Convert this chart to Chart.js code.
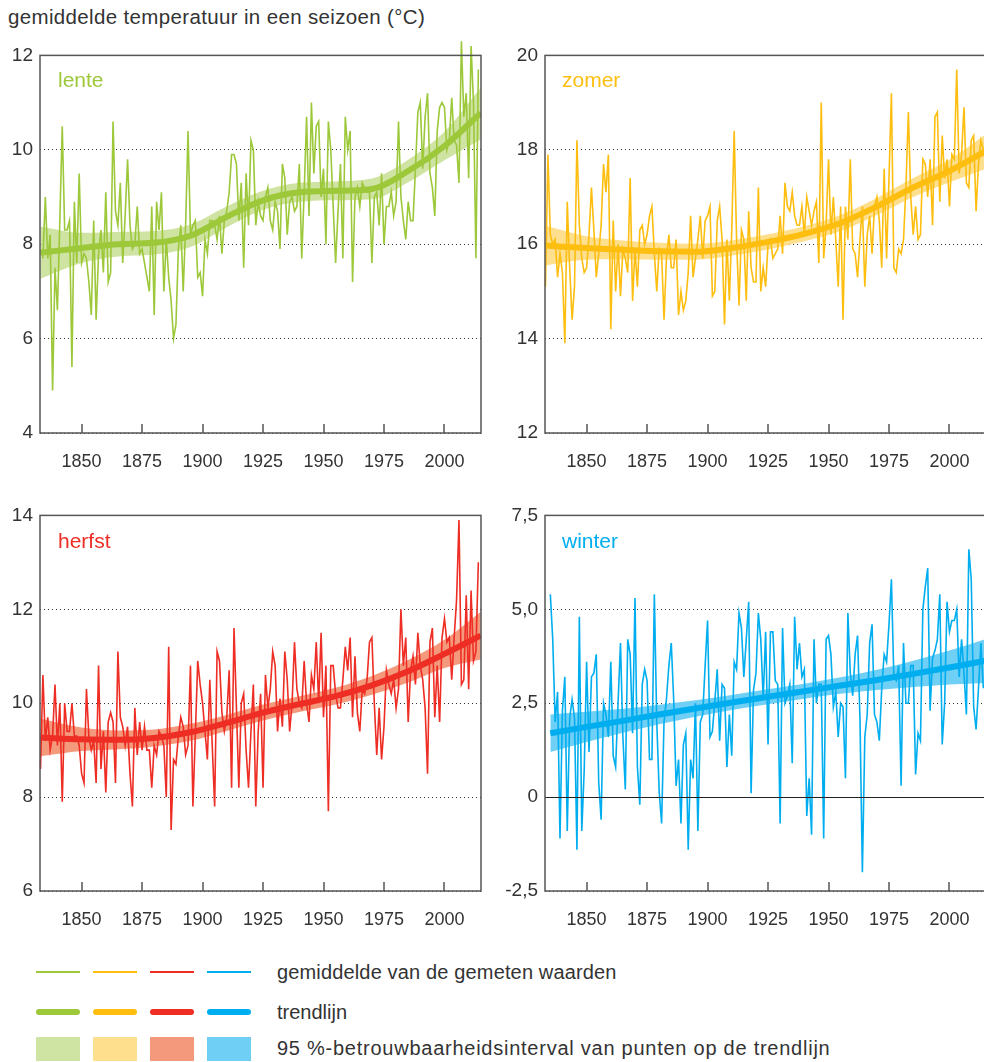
<!DOCTYPE html>
<html>
<head>
<meta charset="utf-8">
<script src="https://cdn.jsdelivr.net/npm/chart.js@4.4.0/dist/chart.umd.min.js"></script>
<style>
html, body { margin: 0; padding: 0; background: #fff; overflow: hidden; }
body { width: 984px; height: 1062px; position: relative; font-family: "Liberation Sans", Arial, sans-serif; color: #333; }
canvas { position: absolute; }
.title { position: absolute; left: 8px; top: 7px; font-size: 20.5px; letter-spacing: 0.35px; line-height: 1; }
.plabel { position: absolute; font-size: 21px; line-height: 1; }
.legtext { position: absolute; left: 277px; font-size: 20px; line-height: 1; }
.legmark { position: absolute; width: 44px; }
</style>
</head>
<body>
<div class="title">gemiddelde temperatuur in een seizoen (°C)</div>
<canvas id="c0" width="490" height="436" style="left:0;top:37px"></canvas>
<canvas id="c1" width="490" height="436" style="left:505px;top:37px"></canvas>
<canvas id="c2" width="490" height="434" style="left:0;top:497px"></canvas>
<canvas id="c3" width="490" height="434" style="left:505px;top:497px"></canvas>
<div id="labels"></div>
<div id="legend"></div>
<script>
// ---- data ----
const yearTicks = [1850, 1875, 1900, 1925, 1950, 1975, 2000];
const xMin = 1832.8, xMax = 2015.1;

const lenteStart = 1834;
const lenteValues = [
  7.7, 9.0, 7.7, 8.2, 4.9, 7.5, 6.6, 8.5, 10.5, 8.3,
  8.3, 8.5, 5.4, 8.9, 7.6, 9.5, 7.6, 7.8, 7.7, 7.2,
  6.5, 8.5, 6.4, 7.8, 8.3, 7.4, 9.1, 7.2, 7.4, 10.6,
  8.7, 8.4, 9.3, 7.6, 8.6, 9.8, 8.4, 7.9, 8.0, 8.8,
  7.8, 7.9, 7.6, 7.3, 7.0, 8.8, 6.5, 8.9, 8.3, 9.1,
  7.0, 8.1, 7.3, 6.8, 6.0, 6.3, 7.9, 8.4, 7.0, 8.4,
  10.4,
  8.2, 8.4, 8.5, 7.3, 7.4, 6.9, 8.1, 7.8, 8.5, 8.5,
  8.4, 8.1, 8.6, 7.8, 8.5, 8.7, 9.1, 9.9, 9.9, 9.7,
  8.5, 9.3, 7.5, 9.5, 8.4, 10.2, 10.0, 8.4, 8.9, 8.6,
  8.5, 9.0, 9.2, 8.5, 8.3, 8.9, 8.7, 7.9, 9.7, 9.4,
  8.2, 8.9, 9.0, 8.7, 8.8, 9.7, 7.7, 9.1, 10.7, 8.6,
  11.0, 9.5, 10.5, 10.6, 9.0, 9.6, 8.0, 10.6, 10.0, 8.8,
  7.6, 8.7,
  9.7, 7.7, 10.7, 10.0, 10.4, 7.2, 9.0, 9.2, 8.8, 9.3,
  9.2, 9.1, 9.1, 7.6, 9.0, 9.1, 8.4, 9.5, 8.0, 8.8,
  8.8, 9.1, 8.6, 8.9, 10.6, 9.0, 8.5, 8.1, 8.9, 8.5,
  8.5, 9.6, 10.8, 11.0, 9.6, 10.7, 11.2, 9.5, 9.2, 8.6,
  10.4, 10.9, 11.0, 10.9, 10.0, 10.2, 11.1, 10.2, 10.1, 9.3,
  12.3, 10.7, 11.2, 9.4, 12.2, 11.0, 7.7, 11.7
];

const zomerStart = 1833;
const zomerValues = [
  15.1, 17.9, 16.2, 16.0, 16.1, 15.3, 15.8, 15.4, 13.9, 16.9,
  15.5, 14.4, 15.1, 18.2, 16.4, 15.7, 15.4, 15.5, 16.2, 17.2,
  16.3, 15.3, 15.8, 16.4, 17.7, 17.1, 17.9, 14.2, 16.5, 15.0,
  16.0, 14.9, 15.9, 15.7, 15.4, 17.4, 14.8, 15.9, 15.1, 16.3,
  16.4, 16.0, 16.2, 16.6, 16.8, 15.8, 15.0, 15.9, 15.8, 14.4,
  15.7, 16.2, 15.5, 15.5, 16.1, 14.5, 15.0, 14.6, 14.8, 15.4,
  16.6, 15.3,
  15.7, 16.1, 16.6, 15.7, 16.5, 16.6, 16.8, 14.9, 15.0, 16.5,
  16.8, 16.1, 14.3, 16.1, 14.8, 16.3, 18.4, 16.1, 14.7, 16.3,
  16.1, 14.8, 16.7, 15.5, 15.2, 15.2, 17.2, 15.0, 15.5, 15.1,
  16.0, 16.1, 15.7, 15.8, 15.9, 16.6, 15.8, 17.3, 16.8, 16.7,
  17.1, 16.6, 16.4, 16.4, 16.8, 16.2, 17.0, 16.7, 16.4, 16.7,
  16.9, 15.6, 19.0, 15.7, 16.4, 17.8, 16.2,
  17.0, 16.1, 15.1, 16.8, 14.4, 16.8, 16.1, 17.8, 15.9, 15.8,
  15.3, 16.1, 16.8, 15.1, 16.2, 16.6, 15.8, 16.8, 17.0, 16.5,
  15.5, 17.6, 15.7, 17.4, 19.2, 15.5, 15.4, 15.9, 15.8, 16.1,
  17.2, 18.8, 17.0, 16.2, 16.8, 16.1, 16.2, 17.8, 17.7, 17.0,
  17.8, 16.4, 18.7, 18.8, 16.9, 18.3, 17.4, 17.8, 16.8, 17.9,
  17.8, 19.7, 17.5, 17.9, 18.9, 17.3, 17.2, 18.2, 18.3, 16.7,
  17.7, 18.2, 18.0
];

const herfstStart = 1833;
const herfstValues = [
  8.6, 10.6, 9.2, 9.7, 9.0, 9.3, 10.4, 9.1, 10.0, 7.9,
  10.0, 9.4, 9.4, 10.0, 9.3, 9.3, 9.1, 8.5, 8.3, 10.3,
  9.3, 9.0, 9.2, 8.3, 10.8, 8.6, 9.4, 8.1, 9.6, 9.8,
  9.6, 8.3, 11.1, 9.7, 9.5, 9.1, 9.5, 8.5, 7.8, 9.9,
  8.9, 9.6, 9.0, 9.5, 9.0, 9.0, 8.2, 9.1, 8.9, 9.4,
  9.3, 9.1, 8.0, 11.2, 7.3, 8.8, 8.7, 9.3, 9.7, 9.5,
  8.9, 9.1, 10.8,
  7.8, 9.3, 10.9, 10.4, 10.0, 9.4, 8.8, 10.5, 9.1, 7.8,
  11.1, 10.9, 9.8, 9.4, 9.7, 10.7, 8.2, 11.6, 9.9, 8.2,
  10.0, 10.2, 9.0, 8.2, 9.4, 10.4, 7.8, 9.4, 10.2, 8.2,
  10.6, 9.9, 10.3, 11.1, 10.8, 9.4, 10.1, 9.5, 11.1, 10.5,
  9.4, 10.0, 11.3, 10.3, 10.0, 9.9, 10.9, 10.0, 9.6, 10.6,
  10.3, 11.3, 10.0, 11.5, 9.7, 10.8, 7.7, 10.8, 10.8, 10.2,
  9.9,
  9.9, 10.5, 11.2, 10.7, 11.4, 9.7, 11.0, 9.8, 9.4, 10.3,
  10.2, 10.5, 11.3, 11.4, 10.0, 8.9, 9.9, 8.8, 9.5, 10.7,
  10.4, 10.2, 10.5, 9.9, 10.3, 12.0, 10.8, 11.4, 9.6, 10.7,
  11.0, 10.4, 11.5, 10.8, 10.5, 9.9, 8.5, 11.3, 11.6, 9.7,
  10.8, 9.6, 11.4, 11.8, 11.3, 11.4, 10.5, 11.4, 12.2, 13.9,
  10.4, 10.5, 12.3, 10.3, 12.4, 10.9, 11.1, 13.0
];

const winterStart = 1835;
const winterValues = [
  5.4, 4.2, 2.0, 2.8, -1.1, 2.3, 3.2, -0.9, 2.1, 2.6,
  2.1, -1.4, 4.8, -0.9, 0.7, 3.6, 1.2, 3.2, 3.3, 3.8,
  0.4, -0.6, 2.5, 2.2, 1.6, 3.6, 1.1, 0.8, 2.5, 4.1,
  1.6, 0.2, 4.2, 3.8, 1.7, 5.3, 0.8, -0.2, 3.0, 3.4,
  3.1, 1.0, 1.0, 5.4, 2.0, 0.15, -0.7, 2.0, 2.6, 3.5,
  4.1, 2.6, 0.3, 1.0, -0.7, 1.4, 1.7, -1.4, 1.0, 0.5,
  2.5, -0.9, 2.0, 2.2, 3.5, 4.7, 1.6, 1.75, 2.55, 3.4,
  1.5, 3.0, 2.9, 0.8, 2.2, 1.1, 3.6, 3.4, 4.9, 4.5,
  3.2, 4.2, 5.2, 0.1, 2.85, 3.3, 4.9, 4.2, 2.6, 4.4,
  1.4, 4.4, 4.4, 3.1, 3.0, -0.7, 4.5, 2.5, 2.7, 3.0,
  0.9, 4.8, 3.4, 4.1, 3.2, 3.4, -0.5, 0.5, -1.0, 4.2,
  2.5, 3.0, 3.0, -1.1, 4.2, 4.3, 3.8, 2.4,
  2.8, 1.6, 2.5, 2.4, 0.5, 4.9, 3.3, 2.7, 3.8, 4.3,
  2.1, -2.0, 1.6, 2.2, 4.1, 4.6, 2.2, 2.0, 1.5, 2.9,
  3.8, 3.6, 4.6, 5.8, 3.2, 3.1, 3.5, 0.3, 4.1, 2.5,
  2.5, 3.5, 3.5, 0.6, 1.7, 1.5, 5.0, 5.6, 6.1, 2.3,
  3.7, 3.9, 4.2, 5.4, 1.4, 2.5, 5.2, 4.4, 4.7, 4.7,
  5.0, 3.2, 4.2, 3.3, 2.2, 6.6, 5.8, 2.4, 1.8, 2.9,
  4.1, 2.9
];

// trend line and 95% band, read at a few years
const trendYears = [1833, 1850, 1865, 1880, 1895, 1910, 1925, 1940, 1955, 1970, 1985, 2000, 2015];
const winterTrendYears = [1835, 1850, 1865, 1880, 1895, 1910, 1925, 1940, 1955, 1970, 1985, 2000, 2015];

const lenteTrend = [7.82, 7.92, 8.0, 8.03, 8.18, 8.58, 8.93, 9.1, 9.13, 9.17, 9.55, 10.08, 10.78];
const lenteLow   = [7.27, 7.6, 7.74, 7.78, 7.94, 8.36, 8.73, 8.9, 8.93, 8.95, 9.31, 9.78, 10.22];
const lenteHigh  = [8.37, 8.24, 8.26, 8.28, 8.42, 8.8, 9.13, 9.3, 9.33, 9.39, 9.79, 10.38, 11.32];

const zomerTrend = [15.97, 15.92, 15.88, 15.85, 15.84, 15.92, 16.05, 16.22, 16.45, 16.8, 17.2, 17.55, 17.97];
const zomerLow   = [15.55, 15.67, 15.68, 15.67, 15.67, 15.76, 15.89, 16.06, 16.28, 16.62, 17.0, 17.31, 17.6];
const zomerHigh  = [16.39, 16.17, 16.08, 16.03, 16.01, 16.08, 16.21, 16.38, 16.62, 16.98, 17.4, 17.79, 18.33];

const herfstTrend = [9.27, 9.23, 9.22, 9.26, 9.38, 9.58, 9.8, 9.98, 10.15, 10.38, 10.68, 11.05, 11.44];
const herfstLow   = [8.87, 8.98, 9.02, 9.08, 9.2, 9.41, 9.63, 9.81, 9.97, 10.18, 10.44, 10.75, 10.93];
const herfstHigh  = [9.67, 9.48, 9.42, 9.44, 9.56, 9.75, 9.97, 10.15, 10.33, 10.58, 10.92, 11.35, 11.95];

const winterTrend = [1.7, 1.87, 2.03, 2.2, 2.36, 2.52, 2.67, 2.82, 2.97, 3.12, 3.28, 3.45, 3.63];
const winterLow   = [1.2, 1.47, 1.71, 1.94, 2.14, 2.32, 2.47, 2.62, 2.75, 2.85, 2.93, 3.0, 3.04];
const winterHigh  = [2.2, 2.27, 2.35, 2.46, 2.58, 2.72, 2.87, 3.02, 3.19, 3.39, 3.63, 3.9, 4.21];

const lenteTicks = [4, 6, 8, 10, 12];
const zomerTicks = [12, 14, 16, 18, 20];
const herfstTicks = [6, 8, 10, 12, 14];
const winterTicks = [-2.5, 0, 2.5, 5, 7.5];
const lenteTickLabels = ['4', '6', '8', '10', '12'];
const zomerTickLabels = ['12', '14', '16', '18', '20'];
const herfstTickLabels = ['6', '8', '10', '12', '14'];
const winterTickLabels = ['-2,5', '0', '2,5', '5,0', '7,5'];

const seasonNames = ['lente', 'zomer', 'herfst', 'winter'];
const lineColors = ['#9cc83a', '#fdbe10', '#ee2d24', '#00aeef'];
const bandColors = ['#cfe3a3', '#fedf8e', '#f4997c', '#6fcff5'];

const legendTexts = [
  'gemiddelde van de gemeten waarden',
  'trendlijn',
  '95 %-betrouwbaarheidsinterval van punten op de trendlijn'
];

// ---- charts ----
const FONT = "'Liberation Sans', Arial, sans-serif";

const panels = [
  { id: 'c0', start: lenteStart, values: lenteValues, tYears: trendYears, trend: lenteTrend, low: lenteLow, high: lenteHigh, ticks: lenteTicks, tickLabels: lenteTickLabels },
  { id: 'c1', start: zomerStart, values: zomerValues, tYears: trendYears, trend: zomerTrend, low: zomerLow, high: zomerHigh, ticks: zomerTicks, tickLabels: zomerTickLabels },
  { id: 'c2', start: herfstStart, values: herfstValues, tYears: trendYears, trend: herfstTrend, low: herfstLow, high: herfstHigh, ticks: herfstTicks, tickLabels: herfstTickLabels },
  { id: 'c3', start: winterStart, values: winterValues, tYears: winterTrendYears, trend: winterTrend, low: winterLow, high: winterHigh, ticks: winterTicks, tickLabels: winterTickLabels, zero: true }
];

const framePlugin = {
  id: 'frame',
  afterDraw(chart, args, opts) {
    const { ctx, chartArea: a, scales } = chart;
    ctx.save();
    if (opts.zero) {
      const y0 = Math.round(scales.y.getPixelForValue(0)) + 0.5;
      ctx.strokeStyle = '#222';
      ctx.lineWidth = 1;
      ctx.beginPath();
      ctx.moveTo(a.left, y0);
      ctx.lineTo(a.right, y0);
      ctx.stroke();
    }
    ctx.strokeStyle = '#555';
    ctx.lineWidth = 1.5;
    ctx.strokeRect(a.left, a.top, a.right - a.left, a.bottom - a.top);
    // inward tick marks on the year axis
    ctx.beginPath();
    scales.x.ticks.forEach(t => {
      const x = Math.round(scales.x.getPixelForValue(t.value));
      ctx.moveTo(x, a.bottom);
      ctx.lineTo(x, a.bottom - 9);
    });
    ctx.stroke();
    ctx.restore();
  }
};

panels.forEach((p, k) => {
  const pts = p.values.map((v, i) => ({ x: p.start + i, y: v }));
  const line = (arr) => arr.map((v, i) => ({ x: p.tYears[i], y: v }));
  new Chart(document.getElementById(p.id), {
    type: 'line',
    data: {
      datasets: [
        { data: line(p.high), borderWidth: 0, pointRadius: 0, fill: false, order: 2, cubicInterpolationMode: 'monotone' },
        { data: line(p.low), borderWidth: 0, pointRadius: 0, fill: '-1', backgroundColor: bandColors[k], order: 2, cubicInterpolationMode: 'monotone' },
        { data: pts, borderColor: lineColors[k], borderWidth: 1.6, pointRadius: 0, tension: 0, fill: false, order: 1, clip: false },
        { data: line(p.trend), borderColor: lineColors[k], borderWidth: 6, pointRadius: 0, fill: false, order: 0, cubicInterpolationMode: 'monotone' }
      ]
    },
    options: {
      responsive: false,
      animation: false,
      events: [],
      layout: { padding: { top: 12, right: 9, left: 0, bottom: 0 } },
      plugins: { legend: { display: false }, tooltip: { enabled: false }, frame: { zero: !!p.zero } },
      scales: {
        x: {
          type: 'linear', min: xMin, max: xMax,
          grid: { display: false },
          border: { display: false },
          afterBuildTicks: (s) => { s.ticks = yearTicks.map(v => ({ value: v })); },
          afterFit: (s) => { s.height = 40; },
          ticks: { color: '#333', padding: 10, maxRotation: 0, autoSkip: false, font: { family: FONT, size: 18 }, callback: (v) => String(v) }
        },
        y: {
          min: p.ticks[0], max: p.ticks[p.ticks.length - 1],
          afterBuildTicks: (s) => { s.ticks = p.ticks.map(v => ({ value: v })); },
          afterFit: (s) => { s.width = 40; },
          grid: { color: '#333', lineWidth: 1, drawTicks: false },
          border: { display: false, dash: [1, 3] },
          ticks: { color: '#333', padding: 7, font: { family: FONT, size: 19 }, callback: (v, i) => p.tickLabels[i] }
        }
      }
    },
    plugins: [framePlugin]
  });
});

// ---- panel labels ----
const labelPos = [[58, 69], [562, 69], [58, 530], [562, 530]];
const labelsDiv = document.getElementById('labels');
seasonNames.forEach((n, k) => {
  const d = document.createElement('div');
  d.className = 'plabel';
  d.textContent = n;
  d.style.left = labelPos[k][0] + 'px';
  d.style.top = labelPos[k][1] + 'px';
  d.style.color = lineColors[k];
  labelsDiv.appendChild(d);
});

// ---- legend ----
const legend = document.getElementById('legend');
const markX = [36, 93, 150, 207];
lineColors.forEach((c, k) => {
  const thin = document.createElement('div');
  thin.className = 'legmark';
  thin.style.cssText = `left:${markX[k]}px;top:971px;height:1.6px;background:${c}`;
  legend.appendChild(thin);
  const thick = document.createElement('div');
  thick.className = 'legmark';
  thick.style.cssText = `left:${markX[k]}px;top:1009px;height:6px;border-radius:3px;background:${c}`;
  legend.appendChild(thick);
  const box = document.createElement('div');
  box.className = 'legmark';
  box.style.cssText = `left:${markX[k]}px;top:1037px;height:24px;background:${bandColors[k]}`;
  legend.appendChild(box);
});
const textTops = [962, 1002, 1038];
const textSpacing = ['0.15px', '0px', '0.75px'];
legendTexts.forEach((t, k) => {
  const d = document.createElement('div');
  d.className = 'legtext';
  d.style.top = textTops[k] + 'px';
  d.style.letterSpacing = textSpacing[k];
  d.textContent = t;
  legend.appendChild(d);
});
</script>
</body>
</html>
